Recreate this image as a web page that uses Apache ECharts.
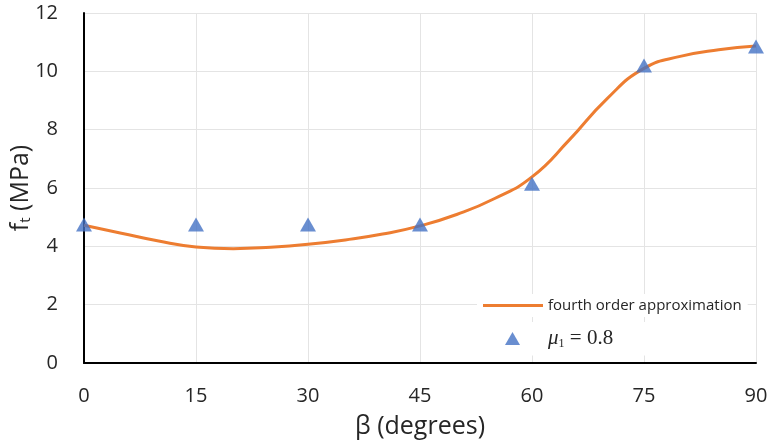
<!DOCTYPE html>
<html><head><meta charset="utf-8">
<script src="https://cdn.jsdelivr.net/npm/echarts@6/dist/echarts.min.js"></script>
<style>html,body{margin:0;padding:0;background:#fff}#c{width:772px;height:446px}</style>
</head><body><div id="c"></div>
<script>
// measured points (mu_1 = 0.8)
const betaPoints = [0, 15, 30, 45, 60, 75, 90];
const ftPoints = [4.75, 4.75, 4.75, 4.75, 6.15, 10.2, 10.85];
// fourth order approximation curve, every 5 degrees
const betaCurve = [0, 5, 10, 15, 20, 25, 30, 35, 40, 45, 50, 55, 60, 65, 70, 75, 80, 85, 90];
const ftCurve = [4.72, 4.45, 4.18, 3.98, 3.92, 3.97, 4.07, 4.22, 4.42, 4.70, 5.10, 5.64, 6.38, 7.65, 9.05, 10.1, 10.52, 10.74, 10.87];
const xTicks = [0, 15, 30, 45, 60, 75, 90];
const yTicks = [0, 2, 4, 6, 8, 10, 12];

const FONT = '"Open Sans", Lato, sans-serif';
const TXT = '#262626';
const chart = echarts.init(document.getElementById('c'), null, {renderer: 'canvas'});
chart.setOption({
  animation: false,
  backgroundColor: '#fff',
  grid: {left: 84, right: 16, top: 13, bottom: 83, containLabel: false, outerBoundsMode: 'none'},
  xAxis: {
    type: 'value', min: xTicks[0], max: xTicks[xTicks.length - 1], interval: 15,
    name: 'β (degrees)', nameLocation: 'middle', nameGap: 51,
    nameTextStyle: {fontFamily: FONT, fontSize: 25, color: TXT},
    axisLine: {show: true, lineStyle: {color: '#000', width: 2}},
    axisTick: {show: false},
    axisLabel: {fontFamily: FONT, fontSize: 20, color: TXT, margin: 23},
    splitLine: {show: true, lineStyle: {color: '#e4e4e4', width: 1}}
  },
  yAxis: {
    type: 'value', min: yTicks[0], max: yTicks[yTicks.length - 1], interval: 2,
    name: '{a|f}{s|t}{a| (MPa)}', nameLocation: 'middle', nameGap: 51, nameRotate: 90,
    nameMoveOverlap: false,
    nameTextStyle: {
      fontFamily: FONT, fontSize: 25, color: TXT,
      rich: {
        a: {fontFamily: FONT, fontSize: 25, color: TXT, verticalAlign: 'bottom', lineHeight: 30},
        s: {fontFamily: FONT, fontSize: 15, color: TXT, verticalAlign: 'bottom', lineHeight: 22}
      }
    },
    axisLine: {show: true, lineStyle: {color: '#000', width: 2}},
    axisTick: {show: false},
    axisLabel: {fontFamily: FONT, fontSize: 20, color: TXT, margin: 26},
    splitLine: {show: true, lineStyle: {color: '#e4e4e4', width: 1}}
  },
  legend: [
    {
      data: [{name: 'fourth order approximation', icon: 'path://M0,0L60,0L60,3L0,3Z'}],
      left: 477, top: 294, padding: [4, 6, 4, 6],
      backgroundColor: '#fff',
      itemWidth: 60, itemHeight: 3,
      textStyle: {fontFamily: FONT, fontSize: 15, color: TXT}
    },
    {
      data: ['mu'],
      left: 477, top: 322, padding: [6, 120, 6, 28],
      backgroundColor: '#fff',
      itemWidth: 15, itemHeight: 13,
      formatter: function () { return '{mu|μ}{sub|1}{eq| = 0.8}'; },
      textStyle: {
        padding: [0, 0, 0, 23],
        rich: {
          mu: {fontFamily: '"Liberation Serif", serif', fontStyle: 'italic', fontSize: 21, color: TXT},
          sub: {fontFamily: '"Liberation Serif", serif', fontSize: 12, color: TXT, verticalAlign: 'bottom', padding: [10, 0, 0, 0]},
          eq: {fontFamily: '"Liberation Serif", serif', fontSize: 21, color: TXT}
        }
      }
    }
  ],
  series: [
    {
      name: 'fourth order approximation', type: 'line', smooth: true,
      data: betaCurve.map((b, i) => [b, ftCurve[i]]),
      symbol: 'none', lineStyle: {color: '#ED7D31', width: 3}, itemStyle: {color: '#ED7D31'},
      z: 2
    },
    {
      name: 'mu', type: 'scatter',
      data: betaPoints.map((b, i) => [b, ftPoints[i]]),
      symbol: 'triangle', symbolSize: [16, 14],
      itemStyle: {color: '#4472C4'},
      z: 3
    }
  ]
});
</script></body></html>
